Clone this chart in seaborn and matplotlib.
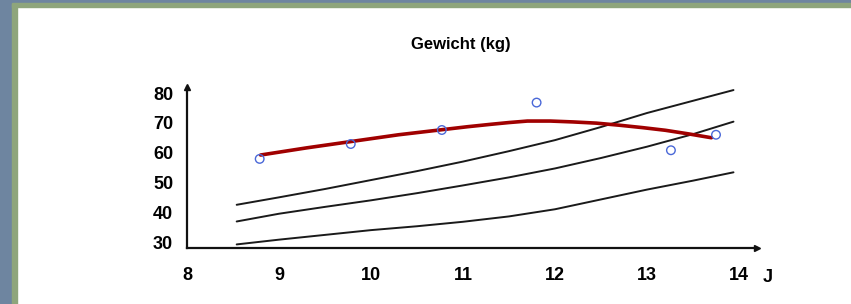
import numpy as np
import pandas as pd
import seaborn as sns
import matplotlib.pyplot as plt
from matplotlib.patches import Rectangle

# measured weights (age in years, weight in kg)
age_pts = [8.79, 9.78, 10.77, 11.80, 13.26, 13.75]
weight_pts = [57.9, 62.9, 67.6, 76.8, 60.8, 66.0]

# fitted trend (red)
trend_age = [8.8, 9.05, 9.3, 9.55, 9.8, 10.05, 10.3, 10.55, 10.8, 11.05, 11.3, 11.5,
             11.7, 11.95, 12.2, 12.45, 12.7, 12.95, 13.2, 13.45, 13.7]
trend_weight = [59.2, 60.4, 61.6, 62.7, 63.8, 64.9, 66.0, 66.9, 67.8, 68.7, 69.5, 70.1,
                70.6, 70.6, 70.3, 69.9, 69.2, 68.4, 67.5, 66.3, 65.0]

# reference curves (black)
ref_age = [8.54, 9.0, 9.5, 10.0, 10.5, 11.0, 11.5, 12.0, 12.5, 13.0, 13.5, 13.94]
ref_upper = [42.5, 45.0, 47.8, 50.8, 53.8, 57.0, 60.5, 64.2, 68.6, 73.3, 77.4, 81.0]
ref_middle = [36.9, 39.5, 41.8, 44.0, 46.4, 49.0, 51.7, 54.7, 58.2, 62.0, 66.2, 70.4]
ref_lower = [29.2, 30.8, 32.4, 34.0, 35.3, 36.8, 38.6, 41.0, 44.3, 47.6, 50.6, 53.4]

x_ticks = [8, 9, 10, 11, 12, 13, 14]
y_ticks = [30, 40, 50, 60, 70, 80]

sns.set_style("white")
plt.rcParams['font.family'] = ['Liberation Sans', 'DejaVu Sans']
plt.rcParams['text.color'] = 'black'
plt.rcParams['xtick.color'] = 'black'
plt.rcParams['ytick.color'] = 'black'

W, H = 851, 304
fig = plt.figure(figsize=(W / 100, H / 100), dpi=100)

# window-like frame on the left/top
slate = "#6e85a0"
green = "#8ea57c"
fig.patches.append(Rectangle((0, 0), 12 / W, 1, transform=fig.transFigure, color=slate, zorder=0))
fig.patches.append(Rectangle((12 / W, 0), 5 / W, 1 - 3 / H, transform=fig.transFigure, color=green, zorder=0))
fig.patches.append(Rectangle((0, 1 - 3 / H), 1, 3 / H, transform=fig.transFigure, color=slate, zorder=0))
fig.patches.append(Rectangle((12 / W, 1 - 7 / H), 1, 4 / H, transform=fig.transFigure, color=green, zorder=0))

# axes placed in pixel terms: x=8 at 187px, 92px/year; y=28 at 248px, ~2.98px/kg
x0, x1 = 8.0, 14.2
y0, y1 = 28.0, 82.0
left = 187 / W
right = (187 + (x1 - x0) * 92) / W
bottom = (H - 248) / H
top = (H - (248 - (y1 - y0) * 2.98)) / H
ax = fig.add_axes([left, bottom, right - left, top - bottom])
ax.set_facecolor("none")

for yy in [ref_upper, ref_middle, ref_lower]:
    sns.lineplot(x=ref_age, y=yy, ax=ax, color="#1a1a1a", lw=1.4, sort=False)

sns.lineplot(x=trend_age, y=trend_weight, ax=ax, color="#a00000", lw=2.6, sort=False)

sns.scatterplot(x=age_pts, y=weight_pts, ax=ax, marker="o", s=38,
                facecolor="none", edgecolor="#4a68d8", linewidth=1.0, zorder=5)

ax.set_xlim(x0, x1)
ax.set_ylim(y0, y1)
ax.set_xticks(x_ticks)
ax.set_yticks(y_ticks)
ax.set_xticklabels([str(t) for t in x_ticks], fontsize=13, fontweight="bold")
ax.set_yticklabels([str(t) for t in y_ticks], fontsize=13, fontweight="bold")
ax.tick_params(axis="x", direction="in", length=5, width=1.2, pad=14)
ax.tick_params(axis="y", direction="in", length=5, width=1.2, pad=10)

for s in ["top", "right"]:
    ax.spines[s].set_visible(False)
for s in ["left", "bottom"]:
    ax.spines[s].set_color("#111111")
    ax.spines[s].set_linewidth(1.6)

# arrow heads at axis ends
ax.plot(1, 0, ">", color="#111111", ms=5, transform=ax.transAxes, clip_on=False)
ax.plot(0, 1, "^", color="#111111", ms=4, transform=ax.transAxes, clip_on=False)

fig.text(768 / W, 1 - 277 / H, "J", fontsize=13, fontweight="bold", ha="center", va="center")
fig.text(461 / W, 1 - 44 / H, "Gewicht (kg)", fontsize=12, fontweight="bold", ha="center", va="center")

fig.savefig("out.png", dpi=100, facecolor="white")
